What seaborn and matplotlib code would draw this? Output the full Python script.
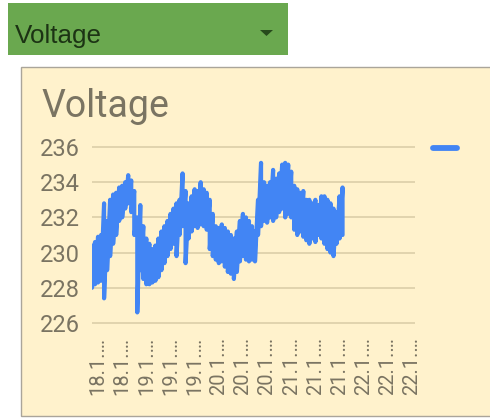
import numpy as np
import pandas as pd
import matplotlib.pyplot as plt
import seaborn as sns
from matplotlib.patches import Rectangle, Polygon
from matplotlib.lines import Line2D

# Datos (una muestra por hora desde 18.1 06:00)
hours = list(range(6, 90))
v_high = [230.4, 230.6, 230.9, 231.0, 232.8, 231.8, 233.0, 233.3, 233.4, 233.7,
          233.8, 234.0, 234.4, 234.1, 233.5, 232.0, 232.7, 231.5, 230.8, 230.5,
          230.2, 230.4, 230.8, 231.2, 231.5, 231.8, 232.2, 232.5, 232.8, 233.0,
          234.5, 233.5, 232.8, 233.2, 233.6, 233.5, 234.0, 233.6, 233.4, 233.0,
          232.2, 231.5, 231.4, 231.6, 231.4, 231.2, 231.0, 230.8, 231.2, 231.8,
          232.2, 232.0, 231.8, 231.5, 231.2, 233.0, 235.1, 234.0, 233.8, 234.0,
          234.7, 234.2, 234.5, 235.0, 235.1, 235.0, 234.6, 233.8, 233.6, 233.4,
          233.5, 233.0, 233.0, 232.8, 233.0, 232.7, 233.2, 233.2, 233.0, 232.8,
          232.5, 232.3, 233.2, 233.7]
v_low = [228.0, 228.2, 228.3, 228.4, 227.4, 229.0, 229.8, 230.5, 231.0, 231.8,
         232.0, 232.5, 232.8, 232.3, 231.0, 226.6, 229.0, 228.5, 228.2, 228.2,
         228.3, 228.4, 228.6, 229.0, 229.4, 229.8, 230.2, 230.5, 229.8, 231.0,
         231.5, 229.4, 230.8, 231.2, 231.5, 231.4, 231.6, 231.5, 231.3, 230.2,
         229.8, 229.6, 229.4, 229.5, 229.2, 228.9, 228.8, 228.5, 228.9, 229.5,
         229.8, 229.6, 229.5, 229.6, 229.5, 231.0, 231.5, 231.8, 231.7, 232.0,
         231.8, 232.0, 232.3, 232.5, 232.0, 232.2, 232.0, 231.3, 231.0, 231.2,
         230.9, 230.7, 230.5, 230.8, 230.6, 231.0, 230.8, 230.5, 230.2, 230.0,
         229.8, 230.5, 230.8, 231.0]
tick_hours = list(range(8, 113, 8))
tick_labels = ["18.1.…", "18.1.…", "19.1.…", "19.1.…", "19.1.…", "20.1.…", "20.1.…",
               "20.1.…", "21.1.…", "21.1.…", "21.1.…", "22.1.…", "22.1.…", "22.1.…"]
y_ticks = [226, 228, 230, 232, 234, 236]

# Serie en zigzag (alto/bajo por hora) para el trazo ruidoso
df = pd.DataFrame({
    "hour": np.repeat(hours, 2),
    "voltage": np.column_stack([v_high, v_low]).ravel(),
})

blue = "#4285f4"
txt = "#7a7462"
sns.set_style("white")
plt.rcParams["font.family"] = ["Roboto", "DejaVu Sans"]

fig = plt.figure(figsize=(4.9, 4.19), dpi=100)

# Barra verde superior (selector)
fig.patches.append(Rectangle((8 / 490, 1 - 55 / 419), 280 / 490, 52 / 419,
                             transform=fig.transFigure, facecolor="#6aa84f",
                             edgecolor="none", zorder=-2))
fig.text(15 / 490, 1 - 43 / 419, "Voltage", fontsize=18.7, color="#1c3314",
         family=["Liberation Sans", "DejaVu Sans"], va="baseline")
fig.patches.append(Polygon([(260 / 490, 1 - 30 / 419), (273 / 490, 1 - 30 / 419),
                            (266.5 / 490, 1 - 36 / 419)], closed=True,
                           transform=fig.transFigure, facecolor="#274a1c",
                           edgecolor="none", zorder=-1))

# Tarjeta del grafico
fig.patches.append(Rectangle((20.5 / 490, 1 - 416 / 419), 480 / 490, 349 / 419,
                             transform=fig.transFigure, facecolor="#fff2cc",
                             edgecolor="#aaa59a", lw=1, zorder=-2))
fig.text(41 / 490, 1 - 117 / 419, "Voltage", fontsize=27, color=txt, va="baseline")

ax = fig.add_axes([92 / 490, 1 - 326.5 / 419, 323 / 490, 183 / 419])
ax.set_facecolor("none")
sns.lineplot(data=df, x="hour", y="voltage", estimator=None, sort=False,
             color=blue, lw=3.0, ax=ax)

ax.set_xlim(6, 113)
ax.set_ylim(225.8, 236.2)
ax.set_yticks(y_ticks)
ax.set_xticks(tick_hours)
ax.set_xticklabels(tick_labels, rotation=90)
ax.tick_params(axis="y", length=0, pad=8.5, labelsize=17, labelcolor=txt)
ax.tick_params(axis="x", length=0, pad=7.5, labelsize=14.5, labelcolor=txt)
ax.grid(axis="y", color="#d8cba6", lw=1.1)
ax.grid(axis="x", visible=False)
ax.set_axisbelow(True)
sns.despine(ax=ax, left=True, bottom=True)
ax.set_xlabel("")
ax.set_ylabel("")

ax.legend(handles=[Line2D([0], [0], color=blue, lw=4.2)], labels=[""],
          loc="center left", bbox_to_anchor=(1.0557, 0.97), frameon=False,
          borderpad=0, borderaxespad=0, handletextpad=0, handlelength=1.7,
          fontsize=10)

fig.savefig("out.png", dpi=100)
